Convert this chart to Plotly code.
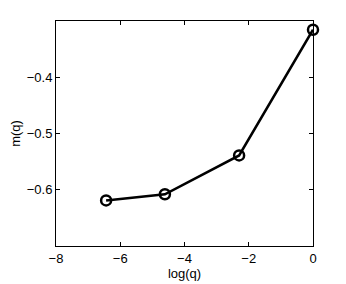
import plotly.graph_objects as go

log_q = [-6.44, -4.61, -2.30, 0.0]
m_q = [-0.619, -0.608, -0.539, -0.3155]

x_ticks = [-8, -6, -4, -2, 0]
x_tick_labels = ["\u22128", "\u22126", "\u22124", "\u22122", "0"]
y_ticks = [-0.6, -0.5, -0.4]
y_tick_labels = ["\u22120.6", "\u22120.5", "\u22120.4"]

fig = go.Figure()
fig.add_trace(go.Scatter(
    x=log_q, y=m_q, mode="lines+markers",
    line=dict(color="black", width=2.5),
    marker=dict(symbol="circle-open", size=10, color="black", line=dict(width=2.5)),
    showlegend=False, cliponaxis=False,
))

axis_common = dict(
    showgrid=False, zeroline=False, showline=True, linecolor="black", linewidth=1,
    mirror="ticks", ticks="inside", ticklen=4, tickcolor="black", tickwidth=1,
    automargin=False,
    tickfont=dict(family="Liberation Sans, Arial, sans-serif", size=13, color="black"),
)
fig.update_xaxes(range=[-8, 0], tickvals=x_ticks, ticktext=x_tick_labels,
                 title=dict(text="log(q)", font=dict(family="Liberation Sans, Arial", size=13, color="black"), standoff=2),
                 **axis_common)
fig.update_yaxes(range=[-0.7, -0.3], tickvals=y_ticks, ticktext=y_tick_labels,
                 title=dict(text="m(q)", font=dict(family="Liberation Sans, Arial", size=13, color="black"), standoff=4),
                 **axis_common)
fig.update_layout(
    width=338, height=276,
    margin=dict(l=48, r=33, t=13, b=38),
    plot_bgcolor="white", paper_bgcolor="white",
)
fig.write_html("out.html")
